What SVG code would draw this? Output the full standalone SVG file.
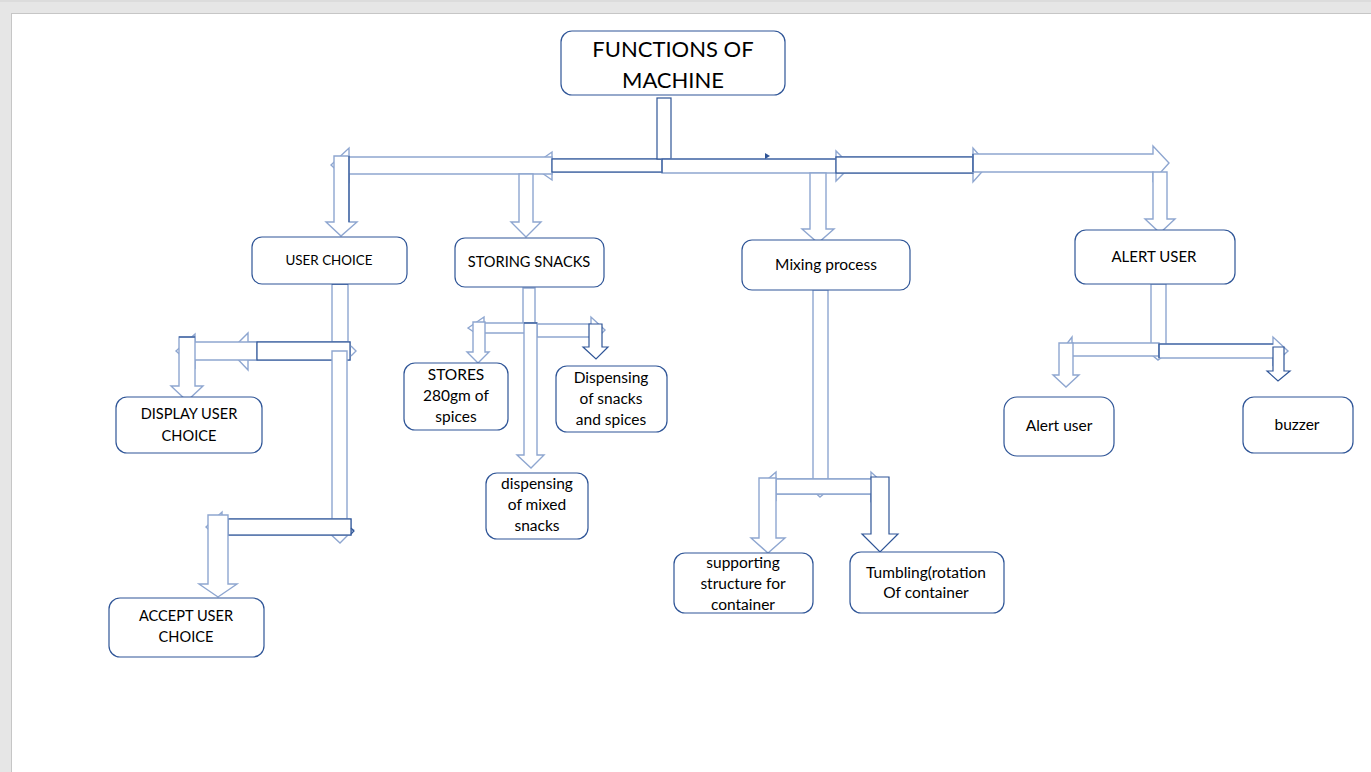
<svg xmlns="http://www.w3.org/2000/svg" width="1371" height="772" viewBox="0 0 1371 772">
<style>
.box{fill:#fff;stroke:#2f5597;stroke-width:1.2}
.t{font-family:Lato,"Liberation Sans",sans-serif;font-size:15.5px;fill:#000;text-anchor:middle}
.u{font-size:14.6px}
.big{font-size:22px}
.lt{fill:#fff;stroke:#8ea6d0;stroke-width:1.4}
.dk{fill:#fff;stroke:#2f5597;stroke-width:1.2}
.ln{fill:none;stroke:#8ea6d0;stroke-width:1.4}
.lnd{fill:none;stroke:#2f5597;stroke-width:1.2}
</style>
<rect x="0" y="0" width="1371" height="772" fill="#e6e6e6"/>
<line x1="0" y1="1" x2="1371" y2="1" stroke="#d2d2d2"/>
<rect x="11.5" y="13.5" width="1370" height="770" fill="#fff" stroke="#c6c6c6"/>

<g id="connectors">
  <!-- top main bar -->
  <polygon class="lt" points="532,166 552,152 552,159 663,159 663,172 552,172 552,180"/>
  <polygon class="lt" points="331,165 349,148 349,157 552,157 552,174 349,174 349,182"/>
  <rect class="dk" x="552" y="159" width="111" height="13"/>
  <rect class="dk" x="657" y="98" width="14" height="61"/>
  <polygon class="lt" points="662,159 836,159 836,151 851,166 836,181 836,173 662,173"/>
  <polyline class="lnd" points="836,159 662,159 662,173"/>
  <polygon class="lt" points="836,157 973,157 973,148 988,165 973,182 973,173 836,173"/>
  <rect class="dk" x="836" y="157" width="137" height="16"/>
  <polygon class="lt" points="973,154 1153,154 1153,146 1169,163 1153,181 1153,172 973,172"/>
  <line class="lnd" x1="973" y1="154" x2="973" y2="172"/>
  <polygon points="765,153 770,156 765,159" fill="#2f5597"/>
  <polygon class="lt" points="334,156 349,156 349,222 357,222 341,236 326,222 334,222"/>
  <line class="lnd" x1="349" y1="156" x2="349" y2="222"/>
  <polygon class="lt" points="519,174 533,174 533,222 541,222 526,237 511,222 519,222"/>
  <polygon class="lt" points="810,173 826,173 826,229 834,229 818,243 802,229 810,229"/>
  <polygon class="lt" points="1153,172 1167,172 1167,219 1175,219 1160,233 1145,219 1153,219"/>

  <!-- user choice branch -->
  <polygon class="lt" points="332,284 348,284 348,342 332,342"/>
  <line class="lnd" x1="332" y1="284" x2="348" y2="284"/>
  <polygon class="lt" points="230,351 248,333 248,342 350,342 350,360 248,360 248,370"/>
  <polygon class="lt" points="176,351 195,334 195,342 257,342 257,360 195,360 195,368"/>
  <rect class="dk" x="257" y="342" width="93" height="18"/>
  <polyline class="ln" points="351,346 356,351 351,356"/>
  <polygon class="lt" points="332,351 347,351 347,530 353,530 340,543 326,530 332,530"/>
  <polygon class="lt" points="179,337 195,337 195,386 203,386 187,401 171,386 179,386"/>
  <line class="lnd" x1="179" y1="337" x2="195" y2="337"/>
  <polygon class="lt" points="206,527 222,512 222,519 351,519 351,535 222,535 222,542"/>
  <rect class="dk" x="228" y="519" width="123" height="16"/>
  <polyline class="lnd" points="351,528 354,531 351,534"/>
  <polygon class="lt" points="208,515 228,515 228,584 237,584 218,597 199,584 208,584"/>

  <!-- storing snacks branch -->
  <polygon class="lt" points="523,288 535,288 535,323 523,323"/>
  <polygon class="lt" points="468,328 484,317 484,323 537,323 537,333 484,333 484,339"/>
  <polygon class="lt" points="537,324 591,324 591,317 605,330 591,344 591,337 537,337"/>
  <polygon class="lt" points="524,323 537,323 537,455 544,455 531,468 517,455 524,455"/>
  <line class="lnd" x1="524" y1="323" x2="537" y2="323"/>
  <polygon class="lt" points="473,322 485,322 485,352 489,352 478,363 467,352 473,352"/>
  <polygon class="dk" points="589,324 602,324 602,347 608,347 596,359 583,347 589,347"/>

  <!-- mixing branch -->
  <polygon class="lt" points="813,290 828,290 828,486 833,486 820,497 808,486 813,486"/>
  <polygon class="lt" points="760,486 776,472 776,479 871,479 871,494 776,494 776,500"/>
  <polygon class="lt" points="776,479 871,479 871,472 886,486 871,501 871,494 776,494"/>
  <polygon class="lt" points="759,478 776,478 776,538 785,538 768,553 751,538 759,538"/>
  <polygon class="dk" points="871,477 889,477 889,534 898,534 880,552 862,534 871,534"/>

  <!-- alert branch -->
  <polygon class="lt" points="1151,284 1166,284 1166,350 1171,350 1158,360 1146,350 1151,350"/>
  <polygon class="lt" points="1062,350 1072,337 1072,343 1159,343 1159,356 1072,356 1072,364"/>
  <polygon class="lt" points="1159,344 1273,344 1273,337 1288,351 1273,365 1273,358 1159,358"/>
  <polyline class="lnd" points="1159,358 1159,344 1273,344"/>
  <polygon class="lt" points="1059,343 1073,343 1073,375 1079,375 1066,387 1053,375 1059,375"/>
  <polygon class="dk" points="1273,347 1284,347 1284,371 1290,371 1278,381 1267,371 1273,371"/>
</g>

<g id="node-functions">
  <rect class="box" x="561" y="31" width="224" height="64" rx="11"/>
  <text class="t big" x="673" y="57">FUNCTIONS OF</text>
  <text class="t big" x="673" y="88">MACHINE</text>
</g>
<g id="node-user-choice">
  <rect class="box" x="252" y="237" width="155" height="47" rx="10"/>
  <text class="t" x="329" y="265" style="font-size:13.4px">USER CHOICE</text>
</g>
<g id="node-storing-snacks">
  <rect class="box" x="455" y="238" width="149" height="49" rx="10"/>
  <text class="t u" x="529" y="267">STORING SNACKS</text>
</g>
<g id="node-mixing">
  <rect class="box" x="742" y="240" width="168" height="50" rx="10"/>
  <text class="t" x="826" y="270">Mixing process</text>
</g>
<g id="node-alert">
  <rect class="box" x="1075" y="230" width="160" height="54" rx="11"/>
  <text class="t u" x="1154" y="262" style="font-size:15px">ALERT USER</text>
</g>
<g id="node-display">
  <rect class="box" x="116" y="397" width="146" height="56" rx="11"/>
  <text class="t u" x="189" y="419">DISPLAY USER</text>
  <text class="t u" x="189" y="441">CHOICE</text>
</g>
<g id="node-accept">
  <rect class="box" x="109" y="598" width="155" height="59" rx="11"/>
  <text class="t u" x="186" y="621">ACCEPT USER</text>
  <text class="t u" x="186" y="642">CHOICE</text>
</g>
<g id="node-stores">
  <rect class="box" x="404" y="363" width="104" height="67" rx="11"/>
  <text class="t" x="456" y="380">STORES</text>
  <text class="t" x="456" y="401">280gm of</text>
  <text class="t" x="456" y="422">spices</text>
</g>
<g id="node-dispensing-snacks">
  <rect class="box" x="556" y="366" width="111" height="66" rx="11"/>
  <text class="t" x="611" y="383">Dispensing</text>
  <text class="t" x="611" y="404">of snacks</text>
  <text class="t" x="611" y="425">and spices</text>
</g>
<g id="node-dispensing-mixed">
  <rect class="box" x="486" y="473" width="102" height="66" rx="11"/>
  <text class="t" x="537" y="489">dispensing</text>
  <text class="t" x="537" y="510">of mixed</text>
  <text class="t" x="537" y="531">snacks</text>
</g>
<g id="node-supporting">
  <rect class="box" x="674" y="553" width="139" height="60" rx="11"/>
  <text class="t" x="743" y="568">supporting</text>
  <text class="t" x="743" y="589">structure for</text>
  <text class="t" x="743" y="610">container</text>
</g>
<g id="node-tumbling">
  <rect class="box" x="850" y="552" width="154" height="61" rx="11"/>
  <text class="t" x="926" y="578">Tumbling(rotation</text>
  <text class="t" x="926" y="598">Of container</text>
</g>
<g id="node-alert-user">
  <rect class="box" x="1004" y="397" width="110" height="59" rx="13"/>
  <text class="t" x="1059" y="431">Alert user</text>
</g>
<g id="node-buzzer">
  <rect class="box" x="1243" y="397" width="110" height="56" rx="11"/>
  <text class="t" x="1297" y="430">buzzer</text>
</g>
</svg>
